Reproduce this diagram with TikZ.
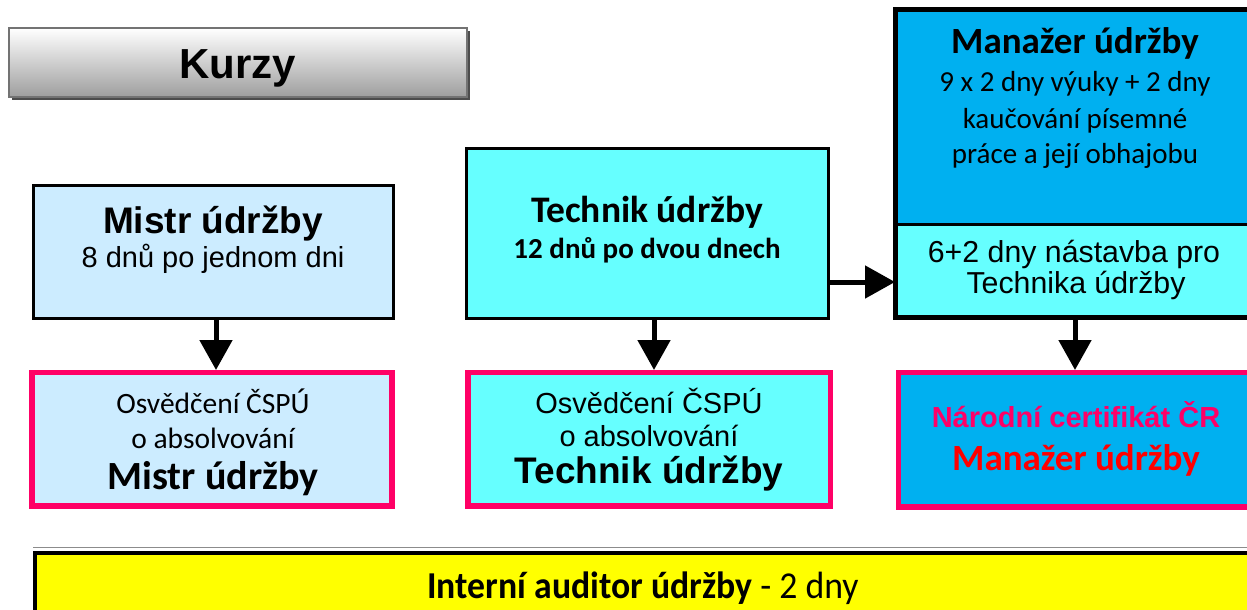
\documentclass[tikz,border=0pt]{standalone}
\usepackage{fontspec}
\setmainfont{Liberation Sans}
\newfontfamily\calib{Carlito}
\usetikzlibrary{arrows.meta,shadows}
\definecolor{lblue}{HTML}{CCECFF}
\definecolor{cyanb}{HTML}{66FFFF}
\definecolor{blueb}{HTML}{00B0F0}
\definecolor{pinkb}{HTML}{FF0066}
\definecolor{redb}{HTML}{FF0000}
\definecolor{yellowb}{HTML}{FFFF00}
\tikzset{
  box/.style={draw=black, line width=3pt},
  cert/.style={draw=pinkb, line width=5.5pt},
  txt/.style={anchor=base, inner sep=0pt, align=center},
  conn/.style={line width=5pt, -{Triangle[width=32pt,length=30pt]}},
}
\begin{document}
\begin{tikzpicture}[x=1pt,y=-1pt]
\useasboundingbox (0,0) rectangle (1247,610);
\clip (0,0) rectangle (1247,610);
% Kurzy
\fill[black!70] (12,31) rectangle (470,100);
\shade[top color=white, bottom color=black!38, draw=black!55, line width=1.5pt] (9,28) rectangle (467,97);
\node[txt, font=\fontsize{42}{50}\selectfont\bfseries] (kurzy) at (238,78) {Kurzy};
% Mistr
\node[box, fill=lblue, minimum width=360pt, minimum height=133pt, inner sep=0pt] (mistr) at (213,251.5) {};
\node[txt, font=\fontsize{37}{44}\selectfont\bfseries] (mistrT) at (213,233) {Mistr údržby};
\node[txt, font=\fontsize{29}{34}\selectfont] (mistrS) at (213,267) {8 dnů po jednom dni};
% Technik
\node[box, fill=cyanb, minimum width=362pt, minimum height=170pt, inner sep=0pt] (tech) at (647,233) {};
\node[txt, font=\fontsize{37.5}{44}\selectfont\calib\bfseries] (techT) at (647,222) {Technik údržby};
\node[txt, font=\fontsize{29}{34}\selectfont\calib\bfseries] (techS) at (647,258) {12 dnů po dvou dnech};
% Manazer
\fill[blueb] (895,10) rectangle (1260,224);
\fill[cyanb] (895,224) rectangle (1260,317);
\draw[line width=3pt] (895,224) -- (1260,224);
\node[draw=black, line width=5pt, minimum width=365pt, minimum height=307pt, inner sep=0pt] (man) at (1077.5,163.5) {};
\coordinate (manIn) at (895,282);
\coordinate (manOut) at (1075,317);
\node[txt, font=\fontsize{37}{44}\selectfont\calib\bfseries] (manT) at (1075,53) {Manažer údržby};
\node[txt, font=\fontsize{29}{34}\selectfont\calib] (manS1) at (1075,92) {9 x 2 dny výuky + 2 dny};
\node[txt, font=\fontsize{29}{34}\selectfont\calib] (manS2) at (1075,128) {kaučování písemné};
\node[txt, font=\fontsize{29}{34}\selectfont\calib] (manS3) at (1075,163) {práce a její obhajobu};
\node[txt, font=\fontsize{30.3}{36}\selectfont] (manN1) at (1074,262) {6+2 dny nástavba pro};
\node[txt, font=\fontsize{30.3}{36}\selectfont] (manN2) at (1076,293) {Technika údržby};
% certificates
\node[cert, fill=lblue, minimum width=360pt, minimum height=133.5pt, inner sep=0pt] (c1) at (212,439.25) {};
\node[txt, font=\fontsize{29.5}{34}\selectfont\calib] (c1a) at (213,413) {Osvědčení ČSPÚ};
\node[txt, font=\fontsize{29.5}{34}\selectfont\calib] (c1b) at (213,448) {o absolvování};
\node[txt, font=\fontsize{40}{44}\selectfont\calib\bfseries] (c1c) at (213,489) {Mistr údržby};
\node[cert, fill=cyanb, minimum width=362.5pt, minimum height=133.5pt, inner sep=0pt] (c2) at (649.25,439.25) {};
\node[txt, font=\fontsize{29}{34}\selectfont] (c2a) at (649,413) {Osvědčení ČSPÚ};
\node[txt, font=\fontsize{29}{34}\selectfont] (c2b) at (649,446) {o absolvování};
\node[txt, font=\fontsize{37}{44}\selectfont\bfseries] (c2c) at (649,483) {Technik údržby};
\node[cert, fill=blueb, minimum width=370pt, minimum height=134.5pt, inner sep=0pt] (c3) at (1083.5,439.75) {};
\node[txt, font=\fontsize{29}{34}\selectfont\bfseries, text=pinkb] (c3a) at (1076,427) {Národní certifikát ČR};
\node[txt, font=\fontsize{37}{44}\selectfont\calib\bfseries, text=redb] (c3b) at (1076,470) {Manažer údržby};
% yellow
\draw[black!45, line width=1.5pt] (33,547.5) -- (1260,547.5);
\node[draw=black, line width=4pt, fill=yellowb, minimum width=1230pt, minimum height=80pt, inner sep=0pt, anchor=north west] (aud) at (33,550.5) {};
\node[txt, font=\fontsize{38}{44}\selectfont\calib] (audT) at (643,598) {\scalebox{0.94}[1]{\textbf{Interní auditor údržby} - 2 dny}};
% connectors
\draw[conn] (216,319) -- (216,370);
\draw[conn] (654,319) -- (654,370);
\draw[conn] (tech.east |- manIn) -- (manIn);
\draw[conn] (manOut) -- (1075,370);
\end{tikzpicture}
\end{document}
